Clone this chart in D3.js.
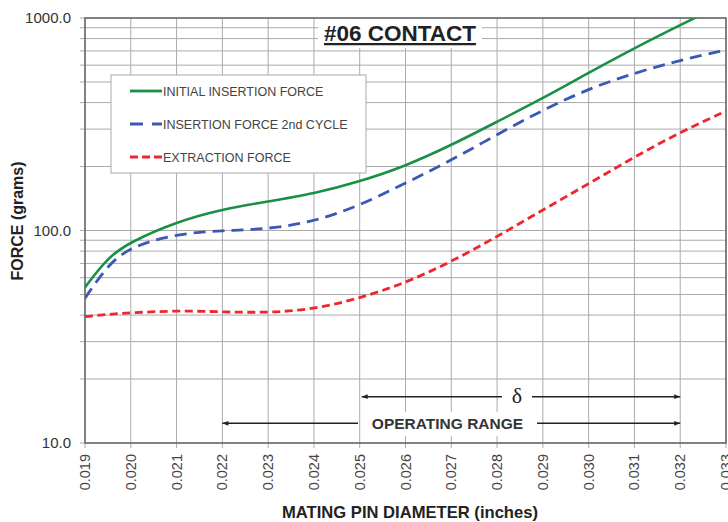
<!DOCTYPE html>
<html><head><meta charset="utf-8">
<script src="https://cdn.jsdelivr.net/npm/d3@7"></script>
<style>body{margin:0;background:#fff;} svg{display:block;font-family:"Liberation Sans",Arial,sans-serif;}</style>
</head><body>
<script>
const diameters = [0.019, 0.0195, 0.020, 0.021, 0.022, 0.023, 0.024, 0.025, 0.026, 0.027, 0.028, 0.029, 0.030, 0.031, 0.032, 0.033];
const initialInsertion = [54, 75, 88.5, 110, 126, 137, 149, 170, 201, 252, 325, 419, 553, 722, 927, 1180];
const insertion2nd = [48, 69, 84, 96.5, 100, 101.5, 110, 131, 167, 214, 283, 369, 465, 551, 634, 707];
const extraction = [39.3, 40.3, 41, 42, 41.4, 41, 42.6, 48, 56.6, 71.3, 93.5, 125, 166, 222, 290, 365];
const seriesNames = ["INITIAL INSERTION FORCE", "INSERTION FORCE 2nd CYCLE", "EXTRACTION FORCE"];
const xTicks = [0.019,0.020,0.021,0.022,0.023,0.024,0.025,0.026,0.027,0.028,0.029,0.030,0.031,0.032,0.033];
const yTicks = [10, 100, 1000];
const deltaRange = [0.025, 0.032];
const operatingRange = [0.022, 0.032];

const W = 728, H = 522;
const L = 85, R = 726, T = 18, B = 443;
const svg = d3.select("body").append("svg").attr("width", W).attr("height", H);
const x = d3.scaleLinear().domain([0.019, 0.033]).range([L, R]);
const y = d3.scaleLog().domain([10, 1000]).range([B, T]);

// grid
const minor = [];
[10, 100].forEach(d => { for (let k = 1; k <= 9; k++) minor.push(d * k); });
minor.push(1000);
const g = svg.append("g");
g.selectAll("line.h").data(minor).join("line")
  .attr("x1", L - 5).attr("x2", R).attr("y1", d => y(d)).attr("y2", d => y(d))
  .attr("stroke", "#aaa").attr("stroke-width", 1);
g.selectAll("line.v").data(xTicks).join("line")
  .attr("x1", d => x(d)).attr("x2", d => x(d)).attr("y1", T).attr("y2", B + 5)
  .attr("stroke", "#aaa").attr("stroke-width", 1);

// title with white background
svg.append("rect").attr("x", 318).attr("y", 19).attr("width", 164).attr("height", 29).attr("fill", "#fff");
svg.append("text").attr("x", 400).attr("y", 41).attr("text-anchor", "middle")
  .attr("font-size", 22.5).attr("font-weight", "bold").attr("fill", "#222")
  .attr("text-decoration", "underline").text("#06 CONTACT");

// frame
svg.append("rect").attr("x", L).attr("y", T).attr("width", R - L).attr("height", B - T)
  .attr("fill", "none").attr("stroke", "#666").attr("stroke-width", 1.5);

// axes labels
svg.selectAll("text.yl").data(yTicks).join("text")
  .attr("x", 71).attr("y", d => y(d) + 5).attr("text-anchor", "end")
  .attr("font-size", 15).attr("fill", "#333").text(d => d.toFixed(1));
svg.selectAll("text.xl").data(xTicks).join("text")
  .attr("transform", d => `translate(${x(d) + 5},${454}) rotate(-90)`)
  .attr("text-anchor", "end").attr("font-size", 14.5).attr("fill", "#444")
  .text(d => d.toFixed(3));
svg.append("text").attr("transform", `translate(23,221) rotate(-90)`).attr("text-anchor", "middle")
  .attr("font-size", 16).attr("font-weight", "bold").attr("fill", "#222").text("FORCE (grams)");
svg.append("text").attr("x", 410).attr("y", 518).attr("text-anchor", "middle")
  .attr("font-size", 16.6).attr("font-weight", "bold").attr("fill", "#222").text("MATING PIN DIAMETER (inches)");

// curves
svg.append("clipPath").attr("id", "clip").append("rect").attr("x", L).attr("y", T).attr("width", R - L).attr("height", B - T);
const line = d3.line().x(d => x(d[0])).y(d => y(d[1])).curve(d3.curveBasis);
const styles = [
  {vals: initialInsertion, color: "#1a9046", dash: null, w: 2.6},
  {vals: insertion2nd, color: "#3a58b4", dash: "12,7", w: 2.8},
  {vals: extraction, color: "#f0262d", dash: "8,4.5", w: 2.8}
];
const cg = svg.append("g").attr("clip-path", "url(#clip)");
styles.forEach(s => {
  cg.append("path").datum(diameters.map((d, i) => [d, s.vals[i]]))
    .attr("d", line).attr("fill", "none").attr("stroke", s.color)
    .attr("stroke-width", s.w).attr("stroke-dasharray", s.dash);
});

// legend
const lg = svg.append("g");
lg.append("rect").attr("x", 111).attr("y", 75).attr("width", 255).attr("height", 98)
  .attr("fill", "#fff").attr("stroke", "#aaa").attr("stroke-width", 1);
const ly = [91, 124, 157];
const ldash = [null, "13,9", "8,4"];
styles.forEach((s, i) => {
  lg.append("line").attr("x1", 130).attr("x2", 162).attr("y1", ly[i]).attr("y2", ly[i])
    .attr("stroke", s.color).attr("stroke-width", 2.8).attr("stroke-dasharray", ldash[i]);
  lg.append("text").attr("x", 163).attr("y", ly[i] + 4.5).attr("font-size", 12.5)
    .attr("fill", "#444").text(seriesNames[i]);
});

// annotations
const defs = svg.append("defs");
defs.append("marker").attr("id", "ah").attr("viewBox", "0 0 10 10").attr("refX", 10).attr("refY", 5)
  .attr("markerWidth", 8).attr("markerHeight", 6).attr("orient", "auto-start-reverse")
  .attr("markerUnits", "userSpaceOnUse")
  .append("path").attr("d", "M0,1 L10,5 L0,9 Z").attr("fill", "#222");
const yD = 396.7, yO = 423.3;
svg.append("rect").attr("x", 505).attr("y", 380).attr("width", 26).attr("height", 30).attr("fill", "#fff");
svg.append("line").attr("x1", 502).attr("x2", x(deltaRange[0]) + 2).attr("y1", yD).attr("y2", yD)
  .attr("stroke", "#222").attr("stroke-width", 1.5).attr("marker-end", "url(#ah)");
svg.append("line").attr("x1", 532).attr("x2", x(deltaRange[1])).attr("y1", yD).attr("y2", yD)
  .attr("stroke", "#222").attr("stroke-width", 1.5).attr("marker-end", "url(#ah)");
svg.append("text").attr("x", 517).attr("y", yD + 6).attr("text-anchor", "middle")
  .attr("font-family", "Liberation Serif, serif").attr("font-size", 22).attr("fill", "#222").text("δ");
svg.append("rect").attr("x", 362).attr("y", 412).attr("width", 170).attr("height", 24).attr("fill", "#fff");
svg.append("line").attr("x1", 358).attr("x2", x(operatingRange[0])).attr("y1", yO).attr("y2", yO)
  .attr("stroke", "#222").attr("stroke-width", 1.5).attr("marker-end", "url(#ah)");
svg.append("line").attr("x1", 537).attr("x2", x(operatingRange[1])).attr("y1", yO).attr("y2", yO)
  .attr("stroke", "#222").attr("stroke-width", 1.5).attr("marker-end", "url(#ah)");
svg.append("text").attr("x", 447.5).attr("y", yO + 5.5).attr("text-anchor", "middle")
  .attr("font-size", 15.5).attr("font-weight", "bold").attr("fill", "#333").text("OPERATING RANGE");
</script>
</body></html>
